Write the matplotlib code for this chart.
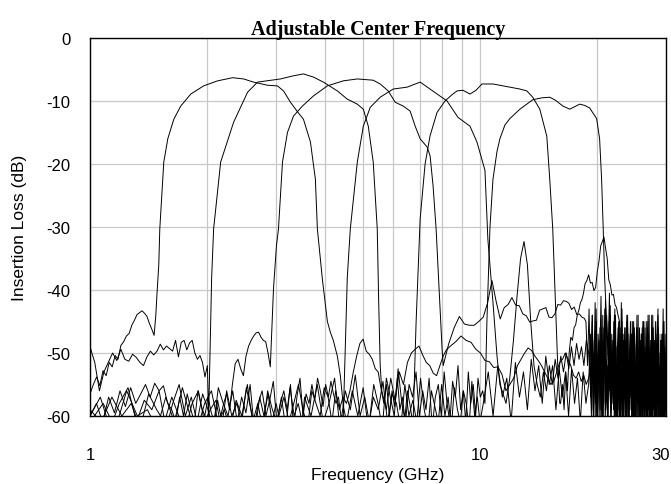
import numpy as np
import matplotlib
matplotlib.use("Agg")
import matplotlib.pyplot as plt
import matplotlib.transforms as mtransforms
from matplotlib.ticker import FixedLocator, NullFormatter

# ---- data (frequency in GHz, loss in dB) ----
# stop-band noise is sampled on a linear sweep between the given limits

# filter 1
db1_low_span = (1.0, 1.46)
db1_low = [-56.5, -55, -53.8, -55.2, -52.8, -53.6, -51.5, -52.2, -50.4, -51, -48.8, -48.2,
           -47.3, -46.9, -45.6, -44.8, -43.9, -43.6, -43.3, -43.7, -44.2, -45.3, -46.2, -47.2]
f1_pass = [1.475, 1.484, 1.501, 1.510, 1.546, 1.583, 1.640, 1.709, 1.813, 1.956,
           2.125, 2.322, 2.477, 2.627, 2.853, 3.025, 3.135, 3.267, 3.404, 3.527,
           3.675, 3.784, 3.829, 3.944, 4.062, 4.134, 4.207, 4.308, 4.385, 4.463]
db1_pass = [-44, -41, -36, -30.3, -19.7, -16, -12.9, -10.8, -8.9, -7.6,
            -6.8, -6.3, -6.5, -7.0, -7.5, -7.6, -8.4, -10.2, -11.7, -12.9,
            -16.5, -22.4, -30.3, -38.3, -45, -46.7, -48, -50.5, -53.6, -58.4]
db1_mid_span = (4.55, 10.0)
db1_mid = [-61, -56, -60, -55.5, -62, -57, -59, -54.5, -61, -56.5, -58, -62, -55, -60, -57.5, -61,
           -54, -59, -62, -56, -58.5, -61, -55, -60, -57, -62, -55.5, -59, -61, -56, -58, -62,
           -54.5, -60, -57, -61]
db1_high_span = (10.2, 19.0)
db1_high = [-58, -53, -60, -52, -57, -54, -61, -51.5, -57, -53, -59, -51, -56, -52, -58, -50.5,
            -55, -52, -59, -52.5, -57, -53, -60, -52.5, -58, -54, -61, -53, -58, -55]
db1_dense_span = (19.2, 30.0)
db1_dense = [-47, -58, -44, -60, -50, -57, -45, -61, -52, -48, -59, -46, -55, -61, -49, -43,
             -58, -51, -60, -47, -54, -42.5, -59, -50, -56, -45, -61, -48, -53, -60, -46, -57,
             -47, -59, -51, -62, -48, -55, -46, -60, -50, -58, -47, -61, -53, -45, -59, -49,
             -56, -61, -46, -54, -60, -48, -57, -44, -62, -51, -58, -47, -60, -50, -55, -61,
             -52, -59, -45, -61, -49, -56, -44, -60, -51, -58, -47, -62, -53, -48, -60, -45,
             -57, -61, -50, -46, -59, -54, -62, -48, -56, -60, -47, -53, -61, -49, -58, -55]

# filter 2
db2_low_span = (1.0, 2.0)
db2_low = [-49, -51.5, -56, -53, -51.5, -50, -51.2, -49.4, -51, -51.3, -50.2, -50.7,
           -51.5, -52, -50.6, -49.7, -50.3, -49.7, -48.6, -49.5, -48.9, -49.3, -49.7, -48,
           -50.6, -48.3, -48, -49.5, -48.4, -48, -50, -51, -50.4, -51.5, -53.8, -52]
f2_pass = [2.015, 2.051, 2.075, 2.163, 2.334, 2.536, 2.690, 3.079, 3.325, 3.527,
           3.740, 3.967, 4.308, 4.569, 4.847, 5.022, 5.172, 5.325, 5.453, 5.50, 5.549]
db2_pass = [-60, -38, -30.3, -19.7, -13.4, -8.6, -7, -6.5, -6, -5.7,
            -6.2, -7, -8.4, -9.7, -10.5, -11.3, -14, -19.7, -30.3, -42, -52]
db2_mid_span = (5.6, 8.2)
db2_mid = [-56, -59, -54, -57.5, -53, -55, -51.5, -50, -49.4, -48.9, -50.3, -51.5,
           -52, -53.2, -53.6, -52, -50.5, -49.5]
db2_high_span = (8.4, 19.0)
db2_high = [-48.9, -48.2, -47.3, -48.0, -48.3, -49.4, -50.0, -51.2, -51.4, -52.3, -52.2, -53.4,
            -56, -55, -54, -52, -51, -50, -49.2, -49.6, -50.5, -51.2, -52, -53,
            -54, -55, -54.5, -53, -51.5, -51, -50, -51, -52, -53.5, -54, -53,
            -54.5, -53.5, -55, -54]
db2_dense_span = (19.3, 30.0)
db2_dense = [-52, -45, -59, -48, -61, -43, -56, -50, -60, -46, -53, -62, -44, -58, -49, -41.5,
             -57, -52, -60, -45, -55, -61, -47, -51, -59, -44, -57, -62, -49, -54, -46, -60,
             -52, -58, -45, -61, -50, -56, -48, -62, -53, -46, -59, -51, -57, -45, -60, -49,
             -55, -62, -47, -58, -52, -44, -60, -50, -57, -48, -61, -53, -46, -59,
             -49, -60, -46, -57, -62, -51, -45, -59, -53, -61, -48, -56, -60, -44, -58, -52,
             -62, -47, -55, -60, -50, -46, -61, -54, -58, -48, -62, -51, -57, -45, -60, -53,
             -59, -50]

# filter 3
db3_low_span = (1.0, 2.9)
db3_low = [-60, -58, -61, -57, -59.5, -56, -58.5, -55.5, -58, -56.5, -55, -57, -54.8, -56,
           -55.2, -58, -59, -61, -57, -60, -56.5, -59, -61, -56, -58.5, -60, -57, -59.5,
           -61, -57.5, -60, -58, -56.5, -59, -55, -51.7, -51, -52.5, -53.6, -50.5, -48.9,
           -48, -47.3, -46.8, -46.7, -47.5, -48, -48.2, -50, -52.2]
f3_pass = [2.955, 3.007, 3.043, 3.116, 3.209, 3.325, 3.506, 3.740, 4.062, 4.463,
           4.847, 5.325, 5.549, 5.818, 6.063, 6.355, 6.622, 6.822, 7.025, 7.320,
           7.450, 7.583, 7.719, 7.857, 7.997]
db3_pass = [-39.8, -33, -30.3, -19.7, -15, -12.4, -10.8, -9.2, -7.6, -6.8,
            -6.5, -6.7, -7.3, -8.4, -10.2, -10.8, -11.6, -14, -16, -17.3,
            -18.7, -23.5, -30.3, -40, -49.4]
db3_high_span = (8.05, 18.52)
db3_high = [-52, -48.5, -46, -44.2, -45.4, -45.6, -45.6, -45.0, -44.3, -42, -38.5, -41.8,
            -44.6, -42.8, -42.3, -41.2, -42.4, -42.5, -43.8, -44.1, -45.1, -44.9, -44.8, -43.2,
            -43.0, -42.8, -44.3, -44.4, -43.8, -42.3, -42.4, -41.7, -41.8, -42.1, -43.1, -42.7,
            -43.9, -43.8, -44.3, -44.5]
db3_dense_span = (18.7, 30.0)
db3_dense = [-45, -52, -43, -57, -44, -55, -42, -60, -47, -53, -41, -58, -46, -61, -44, -51,
             -40.5, -59, -48, -55, -43, -61, -49, -45, -57, -42, -60, -50, -46, -58, -44, -62,
             -52, -47, -59, -45, -56, -61, -48, -53, -46, -60, -51, -45, -58, -49, -62, -46,
             -55, -50, -60, -44, -57, -52, -61, -47, -54, -43, -59, -50, -56, -48, -61, -45,
             -58, -52]

# filter 4
db4_low_span = (1.0, 4.4)
db4_low = [-60, -57, -62, -58, -55.5, -61, -57.5, -59, -56, -62, -58, -55, -60, -57, -61,
           -56.5, -59, -62, -55.5, -58, -60, -56, -61, -57, -59.5, -55, -62, -58, -56, -60,
           -57.5, -54.5, -61, -58, -56, -59, -55, -62, -57, -54, -60, -56.5, -58, -55, -57.5,
           -54, -56, -58.5, -55, -57, -54.5, -56.5, -58, -57, -60]
f4_pass = [4.463, 4.569, 4.651, 4.847, 5.022, 5.232, 5.549, 5.993, 6.506, 7.025,
           7.763, 8.234, 8.784, 9.428, 9.824, 10.30, 10.48, 10.80, 11.06, 11.25]
db4_pass = [-60, -38, -30.3, -19.7, -14, -11, -9.4, -8.1, -7.8, -7,
            -8.9, -10, -12.6, -14, -16.5, -21, -32, -42, -50.5, -55]
db4_high_span = (11.4, 19.0)
db4_high = [-56, -58, -54, -48, -41, -35, -32.3, -36, -45, -52, -55, -57, -53, -56, -52,
            -55, -51, -54, -50.5, -53, -50, -52.5, -49, -52, -48.5, -51, -49, -52, -48, -50]
db4_dense_span = (19.2, 30.0)
db4_dense = [-55, -60, -48, -62, -51, -58, -46, -61, -54, -50, -60, -47, -57, -62, -52, -45,
             -59, -55, -61, -49, -56, -44, -60, -53, -58, -48, -62, -51, -57, -61, -49, -59,
             -54, -62, -50, -58, -47, -61, -55, -52, -60, -48, -57, -62, -51, -47, -59, -54,
             -61, -49, -58, -52, -62, -46, -56, -60, -50, -57, -53, -61, -48, -59, -55, -62,
             -58, -50, -62, -47, -59, -53, -61, -49, -56, -60, -46, -58, -52, -62, -48, -57,
             -61, -51, -55, -60, -47, -59, -54, -62, -50, -57, -61, -49, -58, -53, -60, -56]

# filter 5
db5_low_span = (1.0, 3.0)
db5_low = [-59, -61, -57, -60, -58, -62, -56.5, -59, -61, -57, -60, -62, -58, -56, -61,
           -59, -57.5, -62, -56, -60, -58, -61, -55.5, -59, -62, -57, -60, -56.5, -61, -58]
db5_low2_span = (3.05, 6.7)
db5_low2 = [-60, -57, -61, -58, -55, -59, -62, -56, -58, -60, -55.5, -57, -61, -56, -59,
            -57, -58, -56, -53, -50.5, -48.5, -47.8, -49.7, -50.2, -51, -52.5, -53, -55.7,
            -58, -55, -60, -56, -58.5, -54, -59, -57, -60.5, -56, -58, -60.5]
f5_pass = [6.741, 6.86, 7.025, 7.233, 7.45, 7.763, 8.137, 8.479, 8.735, 9.05,
           9.428, 9.77, 10.12, 10.80, 11.93, 12.66, 13.19, 13.66, 14.24, 14.84,
           15.10, 15.37, 15.64, 15.83, 16.02]
db5_pass = [-60.5, -45, -28.7, -20, -15.5, -11.8, -10, -9, -8.4, -8.3,
            -8.9, -8.3, -7.3, -7.3, -7.8, -8.1, -8.4, -9.4, -11.3, -15.6,
            -22.4, -30.3, -43, -52, -58]
db5_high_span = (16.1, 18.6)
db5_high = [-58, -55, -59, -53, -56, -50, -47.5, -48, -46, -45.5, -44, -43.2, -42, -41.5,
            -40.5, -39]
db5_spur_span = (18.8, 22.6)
db5_spur = [-38.5, -37.6, -38.9, -38.8, -40.1, -39.6, -37, -35.4, -33, -32.3, -31.6, -33.4,
            -35, -38.4, -39.2, -40.8, -40.7, -42.3, -42.8, -44]
db5_dense_span = (22.8, 30.0)
db5_dense = [-45, -58, -43, -60, -48, -55, -44, -61, -51, -47, -59, -45, -56, -62, -49, -46,
             -58, -52, -61, -47, -55, -45, -60, -50, -57, -44, -62, -53, -48, -59, -46, -56,
             -61, -50, -45, -58, -52, -60, -47, -55, -43, -61, -51, -57]

# filter 6
db6_low_span = (1.0, 3.5)
db6_low = [-61, -58, -62, -56, -60, -59, -62, -57, -61, -55.5, -60, -62, -58, -56, -61, -59,
           -62, -57.5, -60, -55, -61, -58, -62, -56, -59, -61, -57, -62, -55.5, -60, -58, -61]
db6_low2_span = (3.55, 10.3)
db6_low2 = [-57, -60, -55, -61, -58, -54, -62, -56, -59, -53.5, -60, -57, -61, -55, -58,
            -62, -54, -57, -60, -52.5, -58, -61, -55, -57, -53, -60, -56, -59, -54, -62,
            -57, -55, -60, -53, -58, -61, -54.5, -57, -52, -59, -56, -61, -53, -58, -55,
            -60, -54, -57, -56, -58]
f6_pass = [10.42, 10.61, 10.80, 11.06, 11.25, 11.59, 11.93, 12.66, 13.66, 14.41,
           15.10, 15.64, 16.31, 17.0, 18.02, 18.56, 19.11, 19.92, 20.27, 20.51,
           20.70, 20.88, 21.13, 21.38, 21.63]
db6_pass = [-45, -30, -22.4, -18, -16, -13.8, -12.8, -11.3, -9.8, -9.5,
            -9.4, -9.9, -10.8, -11.3, -10.5, -10.7, -11.1, -12.8, -16, -22.4,
            -30, -38, -45, -52, -58]
db6_dense_span = (21.8, 30.0)
db6_dense = [-57, -49, -61, -44, -58, -52, -60, -46, -55, -62, -48, -53, -59, -45, -61, -51,
             -57, -47, -60, -54, -49, -62, -46, -58, -52, -60, -48, -56, -61, -45, -59, -53,
             -50, -62, -47, -57, -60, -51, -46, -59, -55, -62, -49, -58, -44, -61, -53, -57,
             -48, -60, -52, -62, -47, -58]

x_ticks = [1, 10, 30]
x_minor = [2, 3, 4, 5, 6, 7, 8, 9, 20]
y_ticks = [0, -10, -20, -30, -40, -50, -60]


def sweep(span, values):
    return np.linspace(span[0], span[1], len(values)), np.asarray(values, float)


def join(*parts):
    f = np.concatenate([p[0] for p in parts])
    d = np.concatenate([p[1] for p in parts])
    return f, d


curves = [
    join(sweep(db1_low_span, db1_low), (np.array(f1_pass), np.array(db1_pass)),
         sweep(db1_mid_span, db1_mid), sweep(db1_high_span, db1_high),
         sweep(db1_dense_span, db1_dense)),
    join(sweep(db2_low_span, db2_low), (np.array(f2_pass), np.array(db2_pass)),
         sweep(db2_mid_span, db2_mid), sweep(db2_high_span, db2_high),
         sweep(db2_dense_span, db2_dense)),
    join(sweep(db3_low_span, db3_low), (np.array(f3_pass), np.array(db3_pass)),
         sweep(db3_high_span, db3_high), sweep(db3_dense_span, db3_dense)),
    join(sweep(db4_low_span, db4_low), (np.array(f4_pass), np.array(db4_pass)),
         sweep(db4_high_span, db4_high), sweep(db4_dense_span, db4_dense)),
    join(sweep(db5_low_span, db5_low), sweep(db5_low2_span, db5_low2),
         (np.array(f5_pass), np.array(db5_pass)), sweep(db5_high_span, db5_high),
         sweep(db5_spur_span, db5_spur), sweep(db5_dense_span, db5_dense)),
    join(sweep(db6_low_span, db6_low), sweep(db6_low2_span, db6_low2),
         (np.array(f6_pass), np.array(db6_pass)), sweep(db6_dense_span, db6_dense)),
]

plt.rcParams['font.family'] = ['Liberation Sans', 'DejaVu Sans']

fig = plt.figure(figsize=(6.71, 4.85), dpi=100)
ax = fig.add_axes([90 / 671, 68 / 485, 576 / 671, 378 / 485])

for f, d in curves:
    ax.plot(f, d, color='black', lw=0.7)

ax.set_xscale('log')
ax.set_xlim(1, 30)
ax.set_ylim(-60, 0)
ax.xaxis.set_major_locator(FixedLocator(x_ticks))
ax.xaxis.set_minor_locator(FixedLocator(x_minor))
ax.xaxis.set_minor_formatter(NullFormatter())
ax.set_xticklabels([str(t) for t in x_ticks])
ax.set_yticks(y_ticks)
ax.set_yticklabels([str(t) for t in y_ticks])
ax.tick_params(axis='both', which='both', length=0, labelsize=12)
ax.tick_params(axis='x', pad=22)
ax.tick_params(axis='y', pad=14)
ax.grid(which='both', color='#c8c8c8', lw=0.9)
ax.set_axisbelow(True)
for s in ax.spines.values():
    s.set_linewidth(1.0)
    s.set_color('black')

# nudge the "30" label inward so it stays inside the canvas
last = ax.get_xticklabels()[-1]
last.set_transform(last.get_transform() + mtransforms.ScaledTranslation(-4 / 72, 0, fig.dpi_scale_trans))

fig.text(378 / 671, 1 - 35 / 485, 'Adjustable Center Frequency', ha='center', va='baseline',
         family='Liberation Serif', weight='bold', fontsize=14.5)
fig.text(378 / 671, 1 - 476 / 485, 'Frequency (GHz)', ha='center', va='center', fontsize=12.5)
fig.text(20 / 671, 1 - 228 / 485, 'Insertion Loss (dB)', ha='center', va='center',
         rotation=90, fontsize=12.5)

fig.savefig('out.png', dpi=100)
